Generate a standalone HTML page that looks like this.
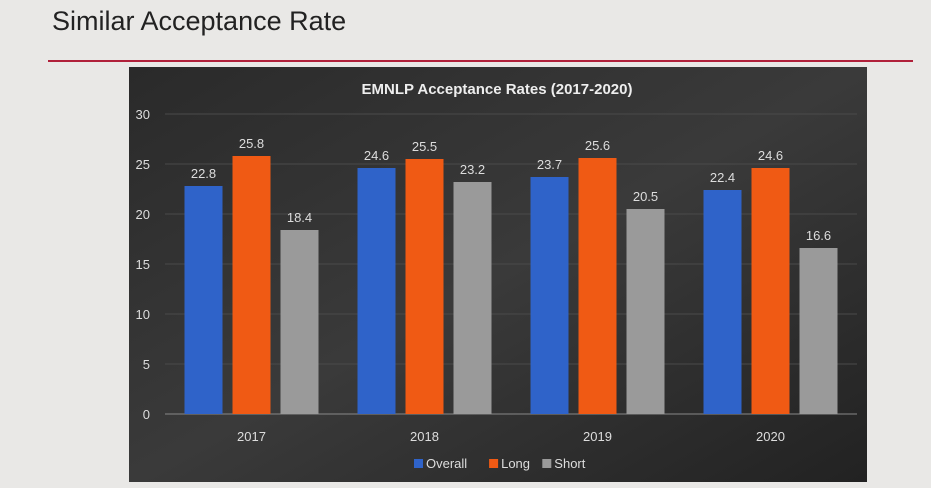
<!DOCTYPE html>
<html><head><meta charset="utf-8"><style>
body{margin:0;width:931px;height:488px;background:#e9e8e6;overflow:hidden;font-family:"Liberation Sans",sans-serif;position:relative}
#t{position:absolute;left:52px;top:6px;font-size:27px;color:#222}
#rule{position:absolute;left:48px;top:60px;width:865px;height:2px;background:#b0203a}
</style></head><body>
<div id="t">Similar Acceptance Rate</div>
<div id="rule"></div>
<svg id="c" width="931" height="488" style="position:absolute;left:0;top:0">
<defs><linearGradient id="bg" x1="0" y1="0" x2="1" y2="1"><stop offset="0" stop-color="#2a2a2a"/><stop offset="0.5" stop-color="#3a3a3a"/><stop offset="1" stop-color="#222"/></linearGradient></defs>
<rect x="129" y="67" width="738" height="415" fill="url(#bg)"/>
<text x="497" y="94" fill="#eee" font-size="15" font-weight="bold" text-anchor="middle">EMNLP Acceptance Rates (2017-2020)</text>
<g id="g"></g>
</svg>
<script>
const categories=["2017","2018","2019","2020"];
const overall=[22.8,24.6,23.7,22.4];
const long=[25.8,25.5,25.6,24.6];
const short=[18.4,23.2,20.5,16.6];
const yTicks=[0,5,10,15,20,25,30];
const seriesNames=["Overall","Long","Short"];
const colors=["#2f63c9","#f05a14","#9a9a9a"];
const NS="http://www.w3.org/2000/svg",g=document.getElementById('g');
const y=v=>414-v*10, x0=165, cw=173;
function mk(t,a,txt){const e=document.createElementNS(NS,t);for(const k in a)e.setAttribute(k,a[k]);if(txt!=null)e.textContent=txt;g.appendChild(e);return e;}
yTicks.forEach(v=>{
 const l=mk('line',{x1:x0,x2:857,y1:y(v),y2:y(v),stroke:v?'#4a4a4a':'#888','stroke-width':1});
 
 
 const t=mk('text',{x:150,y:y(v)+5,fill:'#ddd','font-size':13,'text-anchor':'end'},v);
 
 
});
const series=[overall,long,short];
categories.forEach((c,i)=>{
 const cx=x0+cw*(i+0.5);
 series.forEach((s,j)=>{
  const bx=cx-67+j*48;
  const r=mk('rect',{x:bx,y:y(s[i]),width:38,height:s[i]*10,fill:colors[j]});
  
  
  const t=mk('text',{x:bx+19,y:y(s[i])-8,fill:'#ddd','font-size':13,'text-anchor':'middle'},s[i]);
  
  
 });
 const t=mk('text',{x:cx,y:441,fill:'#ddd','font-size':13,'text-anchor':'middle'},c);
 
 
});
let lx=414;
seriesNames.forEach((n,j)=>{
 const r=mk('rect',{x:lx,y:459,width:9,height:9,fill:colors[j]});
 
 
 const t=mk('text',{x:lx+12,y:468,fill:'#ddd','font-size':13},n);
 
 
 lx+=12+n.length*7.3+12;
});
</script>
</body></html>
